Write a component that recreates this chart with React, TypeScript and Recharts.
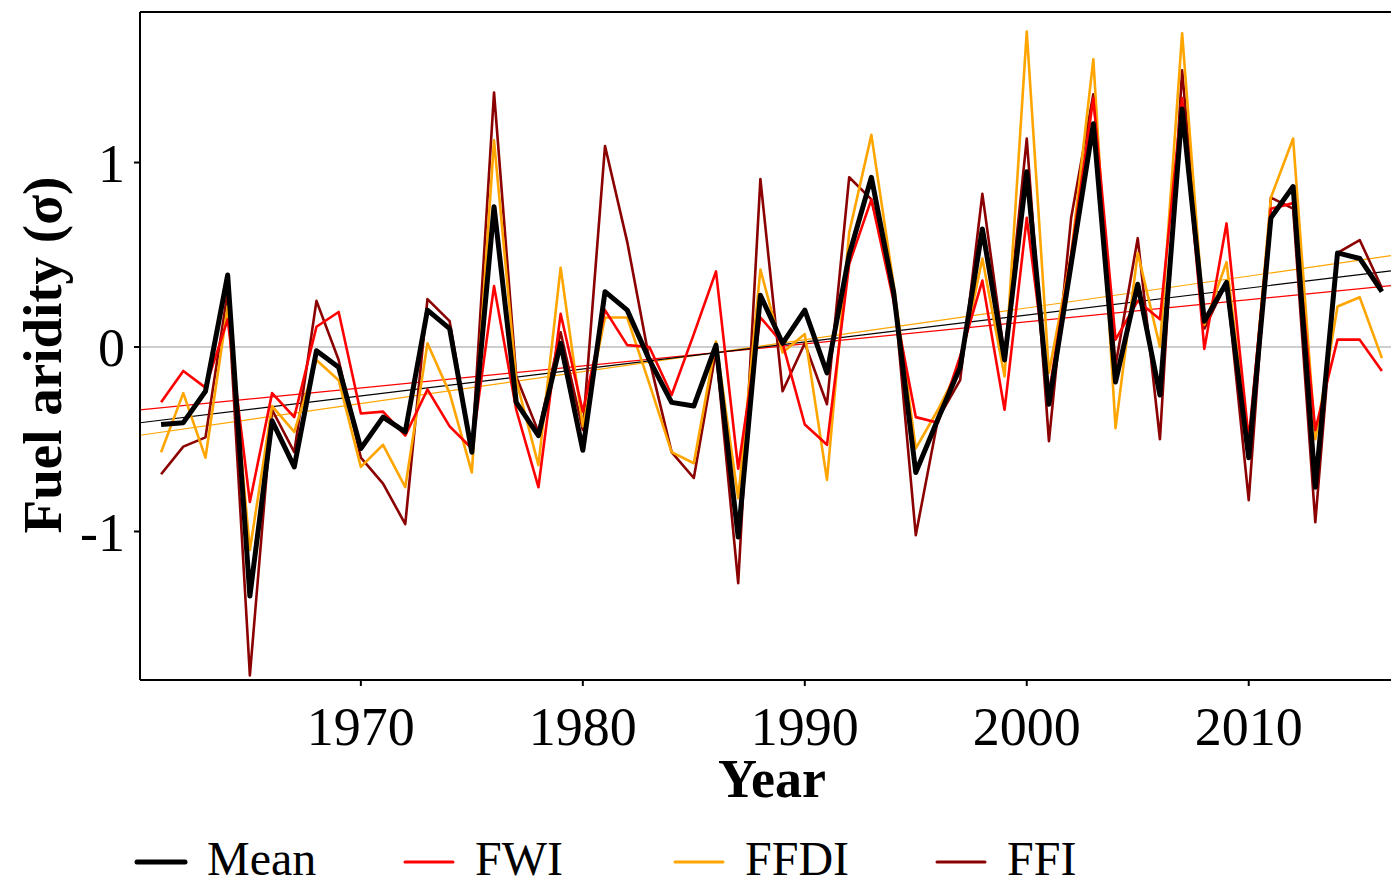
import React from 'react';
import { LineChart, Line, XAxis, YAxis, ReferenceLine, Label } from 'recharts';

const years = [
  1961, 1962, 1963, 1964, 1965, 1966, 1967, 1968, 1969, 1970,
  1971, 1972, 1973, 1974, 1975, 1976, 1977, 1978, 1979, 1980,
  1981, 1982, 1983, 1984, 1985, 1986, 1987, 1988, 1989, 1990,
  1991, 1992, 1993, 1994, 1995, 1996, 1997, 1998, 1999, 2000,
  2001, 2002, 2003, 2004, 2005, 2006, 2007, 2008, 2009, 2010,
  2011, 2012, 2013, 2014, 2015, 2016,
];

const meanValues = [
  -0.42, -0.41, -0.24, 0.39, -1.35, -0.40, -0.65, -0.02, -0.11, -0.55,
  -0.38, -0.46, 0.20, 0.10, -0.57, 0.76, -0.30, -0.48, 0.02, -0.56,
  0.30, 0.20, -0.07, -0.30, -0.32, 0.01, -1.03, 0.28, 0.02, 0.20,
  -0.14, 0.50, 0.92, 0.30, -0.68, -0.39, -0.11, 0.64, -0.07, 0.95,
  -0.31, 0.45, 1.21, -0.19, 0.34, -0.26, 1.29, 0.14, 0.35, -0.60,
  0.70, 0.87, -0.76, 0.51, 0.48, 0.30,
];

const fwiValues = [
  -0.30, -0.13, -0.22, 0.15, -0.84, -0.25, -0.38, 0.11, 0.19, -0.36,
  -0.35, -0.48, -0.23, -0.43, -0.55, 0.33, -0.34, -0.76, 0.18, -0.35,
  0.20, 0.01, 0.00, -0.26, 0.07, 0.41, -0.66, 0.16, 0.02, -0.42,
  -0.53, 0.45, 0.80, 0.25, -0.38, -0.41, -0.05, 0.36, -0.34, 0.70,
  -0.25, 0.50, 1.35, 0.04, 0.25, 0.15, 1.35, -0.01, 0.67, -0.50,
  0.75, 0.78, -0.45, 0.04, 0.04, -0.13,
];

const ffdiValues = [
  -0.57, -0.25, -0.60, 0.22, -1.10, -0.32, -0.46, -0.07, -0.18, -0.65,
  -0.53, -0.76, 0.02, -0.25, -0.68, 1.12, -0.18, -0.64, 0.43, -0.43,
  0.16, 0.16, -0.20, -0.57, -0.63, 0.03, -0.82, 0.42, -0.03, 0.07,
  -0.72, 0.62, 1.15, 0.34, -0.55, -0.34, -0.10, 0.48, -0.16, 1.71,
  -0.14, 0.50, 1.56, -0.44, 0.51, 0.00, 1.70, 0.12, 0.46, -0.55,
  0.81, 1.13, -0.50, 0.22, 0.27, -0.06,
];

const ffiValues = [
  -0.69, -0.54, -0.49, 0.30, -1.78, -0.34, -0.57, 0.25, -0.07, -0.60,
  -0.74, -0.96, 0.26, 0.14, -0.57, 1.38, -0.16, -0.46, 0.08, -0.45,
  1.09, 0.57, -0.07, -0.57, -0.71, -0.02, -1.28, 0.91, -0.24, 0.02,
  -0.31, 0.92, 0.80, 0.32, -1.02, -0.39, -0.18, 0.83, -0.05, 1.13,
  -0.51, 0.70, 1.37, -0.10, 0.59, -0.50, 1.50, 0.10, 0.35, -0.83,
  0.81, 0.75, -0.95, 0.51, 0.58, 0.32,
];

const xTicks = [1970, 1980, 1990, 2000, 2010];
const yTicks = [-1, 0, 1];

const X_MIN = 1960.05;
const X_MAX = 2016.5;
const Y_MIN = -1.805;
const Y_MAX = 1.816;

const seriesInfo = [
  { key: 'ffi', name: 'FFI', color: '#8B0000', width: 2.6 },
  { key: 'ffdi', name: 'FFDI', color: '#FFA500', width: 2.6 },
  { key: 'fwi', name: 'FWI', color: '#FF0000', width: 2.6 },
  { key: 'mean', name: 'Mean', color: '#000000', width: 5 },
];

const legendOrder = ['mean', 'fwi', 'ffdi', 'ffi'];

const data = years.map((year, i) => ({
  year,
  mean: meanValues[i],
  fwi: fwiValues[i],
  ffdi: ffdiValues[i],
  ffi: ffiValues[i],
}));

function linearTrend(xs: number[], ys: number[]) {
  const n = xs.length;
  const mx = xs.reduce((a, b) => a + b, 0) / n;
  const my = ys.reduce((a, b) => a + b, 0) / n;
  let sxy = 0;
  let sxx = 0;
  for (let i = 0; i < n; i++) {
    sxy += (xs[i] - mx) * (ys[i] - my);
    sxx += (xs[i] - mx) * (xs[i] - mx);
  }
  const slope = sxy / sxx;
  const icpt = my - slope * mx;
  return [
    { year: X_MIN, v: icpt + slope * X_MIN },
    { year: X_MAX, v: icpt + slope * X_MAX },
  ];
}

const trends = [
  { key: 'tffdi', color: '#FFA500', data: linearTrend(years, ffdiValues) },
  { key: 'tfwi', color: '#FF0000', data: linearTrend(years, fwiValues) },
  { key: 'tmean', color: '#000000', data: linearTrend(years, meanValues) },
];

const FONT = '"Liberation Serif", "Times New Roman", serif';

function LegendBox() {
  const lefts: Record<string, number> = { mean: 137, fwi: 405, ffdi: 675, ffi: 937 };
  return (
    <svg width={1391} height={60} style={{ position: 'absolute', left: 0, top: 828 }}>
      {legendOrder.map((k) => {
        const s = seriesInfo.find((d) => d.key === k)!;
        const x = lefts[k];
        return (
          <g key={k}>
            <line x1={x} x2={x + 48} y1={34} y2={34} stroke={s.color} strokeWidth={k === 'mean' ? 5 : 3} strokeLinecap="round" />
            <text x={x + 70} y={47} fontFamily={FONT} fontSize={48} fill="#000">
              {s.name}
            </text>
          </g>
        );
      })}
    </svg>
  );
}

export default function App() {
  return (
    <div style={{ position: 'absolute', left: 0, top: 0, width: 1391, height: 890, overflow: 'hidden', background: '#fff' }}>
      <LineChart width={1393} height={890} data={data} margin={{ top: 12, right: 0, bottom: 0, left: 0 }}>
        <XAxis
          dataKey="year"
          type="number"
          domain={[X_MIN, X_MAX]}
          ticks={xTicks}
          allowDataOverflow
          height={210}
          tickSize={6}
          tickMargin={21}
          axisLine={{ stroke: '#000', strokeWidth: 2 }}
          tickLine={{ stroke: '#000', strokeWidth: 2 }}
          tick={{ fill: '#000', fontSize: 54, fontFamily: FONT }}
        >
          <Label
            content={() => (
              <text x={772} y={797} textAnchor="middle" fontFamily={FONT} fontSize={54} fontWeight="bold" fill="#000">
                Year
              </text>
            )}
          />
        </XAxis>
        <YAxis
          type="number"
          domain={[Y_MIN, Y_MAX]}
          ticks={yTicks}
          allowDataOverflow
          width={140}
          tickSize={6}
          tickMargin={9}
          axisLine={{ stroke: '#000', strokeWidth: 2 }}
          tickLine={{ stroke: '#000', strokeWidth: 2 }}
          tick={{ fill: '#000', fontSize: 54, fontFamily: FONT }}
        >
          <Label
            content={() => (
              <text
                x={42}
                y={355}
                transform="rotate(-90, 42, 355)"
                textAnchor="middle"
                dominantBaseline="central"
                fontFamily={FONT}
                fontSize={55}
                fontWeight="bold"
                fill="#000"
              >
                Fuel aridity (σ)
              </text>
            )}
          />
        </YAxis>
        <ReferenceLine y={Y_MAX} stroke="#000" strokeWidth={2} />
        <ReferenceLine y={0} stroke="#BEBEBE" strokeWidth={1.5} />
        {trends.map((t) => (
          <Line
            key={t.key}
            data={t.data}
            dataKey="v"
            type="linear"
            stroke={t.color}
            strokeWidth={1.2}
            dot={false}
            activeDot={false}
            isAnimationActive={false}
            legendType="none"
          />
        ))}
        {seriesInfo.map((s) => (
          <Line
            key={s.key}
            dataKey={s.key}
            name={s.name}
            type="linear"
            stroke={s.color}
            strokeWidth={s.width}
            strokeLinejoin="round"
            dot={false}
            activeDot={false}
            isAnimationActive={false}
          />
        ))}
      </LineChart>
      <LegendBox />
    </div>
  );
}
